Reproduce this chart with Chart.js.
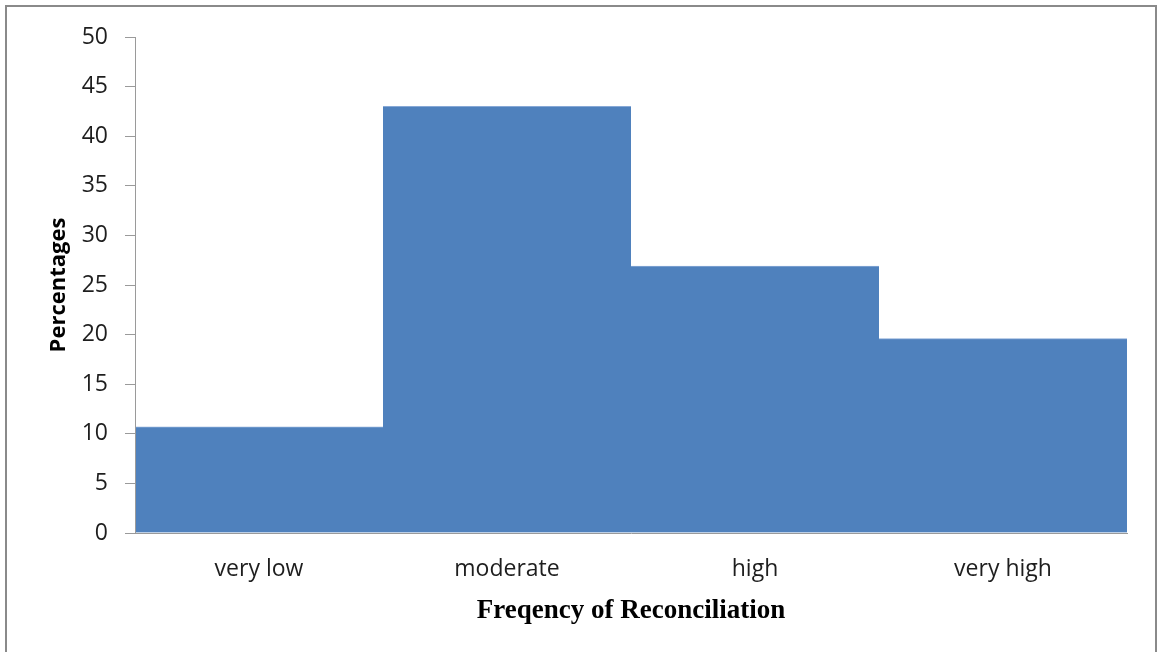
<!DOCTYPE html>
<html>
<head>
<meta charset="utf-8">
<script src="https://cdn.jsdelivr.net/npm/chart.js@4.4.1/dist/chart.umd.min.js"></script>
<style>
  html, body { margin: 0; padding: 0; background: #ffffff; overflow: hidden; }
  #frame {
    position: absolute; left: 5px; top: 5px; width: 1148px; height: 700px;
    border: 2px solid #8a8a8a; border-bottom: none; box-sizing: content-box;
  }
  #chart { position: absolute; left: 0; top: 0; }
</style>
</head>
<body>
<div id="frame"></div>
<canvas id="chart" width="1157" height="652"></canvas>
<script>
// Reconciliation frequency, share of respondents (%)
const categories = ['very low', 'moderate', 'high', 'very high'];
const percentages = [10.7, 43.0, 26.9, 19.6];
const yMin = 0;
const yMax = 50;
const yStep = 5;

const axisGray = '#9a9a9a';
const textColor = '#1e1e1e';

new Chart(document.getElementById('chart'), {
  type: 'bar',
  data: {
    labels: categories,
    datasets: [{
      data: percentages,
      backgroundColor: '#4f81bd',
      borderColor: '#86a8d6',
      borderWidth: { top: 1, left: 0, right: 0, bottom: 0 },
      borderSkipped: false,
      categoryPercentage: 1.0,
      barPercentage: 1.0
    }]
  },
  options: {
    responsive: false,
    animation: false,
    devicePixelRatio: 1,
    // plot area spans whole pixels (135..1127) so adjacent bars meet without seams
    layout: { padding: { left: 40, top: 37, right: 30, bottom: 0 } },
    plugins: {
      legend: { display: false },
      tooltip: { enabled: false }
    },
    scales: {
      x: {
        grid: { display: true, drawOnChartArea: false, drawTicks: false },
        border: { display: true, color: axisGray, width: 1, z: 1 },
        ticks: {
          color: textColor,
          padding: 23,
          font: { family: 'Open Sans', size: 23 }
        },
        title: {
          display: true,
          text: 'Freqency of Reconciliation',
          color: '#000000',
          padding: { top: 0, bottom: 25 },
          font: { family: 'Liberation Serif', size: 27, weight: 'bold' }
        },
        afterFit: (scale) => { scale.height = 119; }
      },
      y: {
        min: yMin,
        max: yMax,
        grid: { display: true, drawOnChartArea: false, drawTicks: true, tickLength: 10, color: axisGray },
        border: { display: true, color: axisGray, width: 1, z: 1 },
        ticks: {
          stepSize: yStep,
          color: textColor,
          padding: 17,
          font: { family: 'Open Sans', size: 23 }
        },
        title: {
          display: true,
          text: 'Percentages',
          color: '#000000',
          padding: { top: 6, bottom: 0 },
          font: { family: 'Open Sans', size: 22, weight: 'bold' }
        },
        afterFit: (scale) => { scale.width = 95; }
      }
    }
  }
});
</script>
</body>
</html>
